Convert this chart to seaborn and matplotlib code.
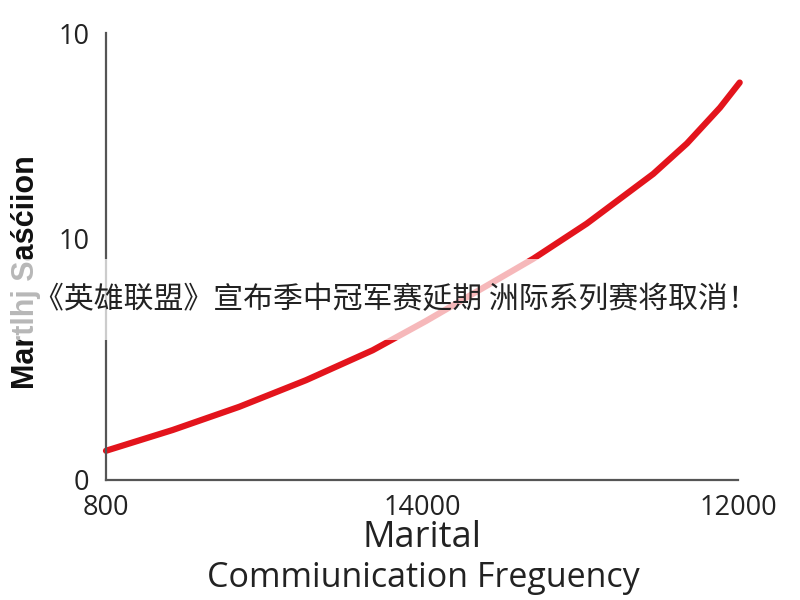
import matplotlib
matplotlib.use("Agg")
import matplotlib.pyplot as plt
from matplotlib.patches import Rectangle
import seaborn as sns
import pandas as pd

# ---- data ----
freq = [800, 1982, 3162, 4344, 5526, 6471, 8373, 9319, 10499, 11096, 11681, 12030]
satisfaction = [1.21, 2.07, 3.03, 4.13, 5.37, 6.58, 9.16, 10.61, 12.67, 13.93, 15.41, 16.45]
x_ticks = [800, 6400, 12000]
x_tick_labels = ["800", "14000", "12000"]
y_ticks = [0, 10, 18.5]
y_tick_labels = ["0", "10", "10"]
y_label = "Martlhj Saśćiion"
x_label_1 = "Marital"
x_label_2 = "Commiunication Freguency"
overlay_text = "《英雄联盟》宣布季中冠军赛延期 洲际系列赛将取消！"

df = pd.DataFrame({"freq": freq, "sat": satisfaction})

sns.set_style("white")
plt.rcParams["font.family"] = ["Open Sans", "DejaVu Sans"]

fig = plt.figure(figsize=(8, 6), dpi=100)
ax = fig.add_axes([0.1325, 0.2, 0.79, 0.745])

sns.lineplot(data=df, x="freq", y="sat", ax=ax, color="#e3141c",
             linewidth=4.5, solid_capstyle="round", solid_joinstyle="round")
for ln in ax.lines:
    ln.set_clip_on(False)

ax.set_xlim(800, 12000)
ax.set_ylim(0, 18.5)
ax.set_xticks(x_ticks)
ax.set_xticklabels(x_tick_labels)
ax.set_yticks(y_ticks)
ax.set_yticklabels(y_tick_labels)
ax.tick_params(axis="both", labelsize=19.5, colors="#222222", length=8, width=1.5,
               direction="out", color="#555555")
ax.tick_params(axis="x", pad=2)
ax.tick_params(axis="y", pad=4)

for s in ["top", "right"]:
    ax.spines[s].set_visible(False)
for s in ["left", "bottom"]:
    ax.spines[s].set_color("#555555")
    ax.spines[s].set_linewidth(1.6)

ax.set_xlabel("")
ax.set_ylabel("")

fig.text(0.527, 0.103, x_label_1, ha="center", va="center", fontsize=26, color="#222222")
fig.text(0.529, 0.037, x_label_2, ha="center", va="center", fontsize=24.5, color="#222222")
fig.text(0.033, 0.547, y_label, ha="center", va="center", rotation=90, fontsize=22,
         fontweight="bold", color="#111111",
         family=["Liberation Sans", "DejaVu Sans"])

# semi-transparent white band with caption
fig.patches.append(Rectangle((0, 0.433), 1, 0.135, transform=fig.transFigure,
                             facecolor="white", alpha=0.7, edgecolor="none", zorder=5))
fig.text(0.495, 0.5, overlay_text, ha="center", va="center", fontsize=21.5,
         color="#222222", zorder=6, family=["Noto Sans CJK SC", "DejaVu Sans"])

fig.savefig("out.png", dpi=100, facecolor="white")
